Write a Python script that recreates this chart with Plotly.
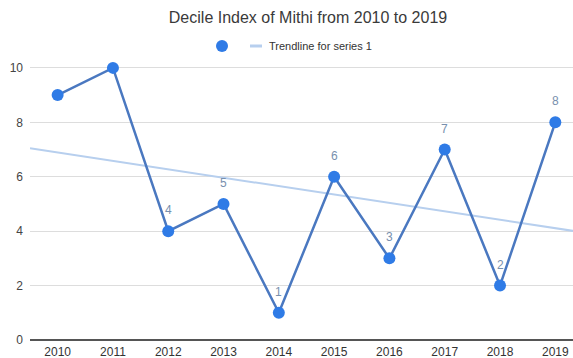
import numpy as np
import plotly.graph_objects as go

# Decile index per year
years = [2010, 2011, 2012, 2013, 2014, 2015, 2016, 2017, 2018, 2019]
decile = [9, 10, 4, 5, 1, 6, 3, 7, 2, 8]
labelled_from = 2012  # data labels start at this year

SERIES_BLUE = "#2f7be6"
LINE_BLUE = "#4a78c0"
TREND_BLUE = "#b7cfee"
LABEL_COLOR = "#7890ae"
FONT = "Arial, Liberation Sans"

W, H = 573, 358
L, R, T, B = 30, 0, 54, 18


def px_to_paper(px, py):
    """Convert page pixels to paper coordinates of the plot area."""
    return (px - L) / (W - L - R), (H - B - py) / (H - T - B)


idx = np.arange(len(years))

# Least-squares trendline across the category span
slope, intercept = np.polyfit(idx, decile, 1)
tx = np.array([-0.5, len(years) - 0.5])
ty = slope * tx + intercept

fig = go.Figure()

fig.add_trace(go.Scatter(
    x=tx, y=ty, mode="lines",
    line=dict(color=TREND_BLUE, width=2),
    name="Trendline for series 1", showlegend=False,
))

fig.add_trace(go.Scatter(
    x=idx, y=decile, mode="lines+markers",
    line=dict(color=LINE_BLUE, width=2.5),
    marker=dict(color=SERIES_BLUE, size=12),
    showlegend=False, cliponaxis=False,
))

# Data labels above the points
annotations = []
for i, (y, v) in enumerate(zip(years, decile)):
    if y >= labelled_from:
        annotations.append(dict(
            x=i, y=v, xref="x", yref="y", text=str(v), showarrow=False,
            yshift=21, font=dict(color=LABEL_COLOR, size=12, family=FONT),
        ))

# Legend: dot for the series, short bar for the trendline
dot_x, dot_y = px_to_paper(222, 46)
r_x = 6 / (W - L - R)
r_y = 6 / (H - T - B)
bar_x0, bar_y = px_to_paper(250, 46)
bar_x1, _ = px_to_paper(262, 46)
text_x, text_y = px_to_paper(267, 46)

shapes = [
    dict(type="circle", xref="paper", yref="paper",
         x0=dot_x - r_x, x1=dot_x + r_x, y0=dot_y - r_y, y1=dot_y + r_y,
         fillcolor=SERIES_BLUE, line=dict(width=0)),
    dict(type="line", xref="paper", yref="paper",
         x0=bar_x0, x1=bar_x1, y0=bar_y, y1=bar_y,
         line=dict(color=TREND_BLUE, width=3)),
]
annotations.append(dict(
    x=text_x, y=text_y, xref="paper", yref="paper", xanchor="left",
    yanchor="middle", text="Trendline for series 1", showarrow=False,
    font=dict(size=11, color="#333333", family=FONT),
))

fig.update_layout(
    width=W, height=H,
    margin=dict(l=L, r=R, t=T, b=B),
    paper_bgcolor="white", plot_bgcolor="white",
    font=dict(family=FONT, color="#444444", size=11),
    showlegend=False,
    title=dict(text="Decile Index of Mithi from 2010 to 2019",
               x=308 / W, xanchor="center", y=1 - 17 / H, yanchor="middle",
               font=dict(size=16, color="#3a3a3a")),
    shapes=shapes,
    annotations=annotations,
    xaxis=dict(range=[-0.5, 9.32], tickmode="array", tickvals=idx,
               ticktext=[str(y) for y in years], showgrid=False,
               zeroline=False, showline=False, ticks="",
               ticklabelstandoff=3,
               tickfont=dict(size=12, color="#333333")),
    yaxis=dict(range=[0, 10.51], tickvals=[0, 2, 4, 6, 8, 10],
               gridcolor="#dddddd", gridwidth=1, zeroline=True,
               zerolinecolor="#555555", zerolinewidth=1.5,
               ticks="", ticklabelstandoff=6,
               tickfont=dict(size=12, color="#444444")),
)

fig.write_html("out.html")
